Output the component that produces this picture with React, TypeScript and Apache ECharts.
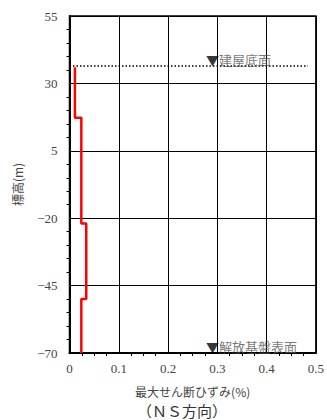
import React, { useEffect, useRef } from "react";
import * as echarts from "echarts";

// Shear strain profile (layer tops / bottoms in m, max shear strain in %)
const layerTop = [36, 17.3, -22, -50];
const layerBottom = [17.3, -22, -50, -70];
const strainValues = [0.011, 0.024, 0.034, 0.024];

// Building base level
const baseLevel = 36.5;
const baseLineX = [0, 0.484];

// Annotations
const noteTexts = ["建屋底面", "解放基盤表面"];
const noteX = [0.277, 0.277];
const noteY = [36.5, -70];

const yTicks = [-70, -45, -20, 5, 30, 55];
const xTicks = [0, 0.1, 0.2, 0.3, 0.4, 0.5];

const serif = "Liberation Serif";
const cjk = "Noto Sans CJK JP";

export default function App() {
  const ref = useRef<HTMLDivElement>(null);
  useEffect(() => {
    if (!ref.current) return;
    const chart = echarts.init(ref.current, undefined, { renderer: "svg" });

    const profile: number[][] = [];
    strainValues.forEach((v, i) => {
      profile.push([v, layerTop[i]]);
      profile.push([v, layerBottom[i]]);
    });

    chart.setOption({
      animation: false,
      backgroundColor: "#fff",
      graphic: [
        {
          type: "text",
          left: 137,
          top: 403,
          style: {
            text: "（ＮＳ方向）",
            fontFamily: cjk,
            fontSize: 15,
            fill: "#333",
          },
        },
      ],
      grid: {
        left: 69.5,
        right: 8,
        top: 16,
        bottom: 67,
        show: true,
        borderColor: "#000",
        borderWidth: 1.5,
        backgroundColor: "transparent",
      },
      xAxis: {
        type: "value",
        min: xTicks[0],
        max: xTicks[xTicks.length - 1],
        interval: 0.1,
        name: "最大せん断ひずみ(%)",
        nameLocation: "middle",
        nameGap: 31,
        nameTextStyle: { fontFamily: cjk, fontSize: 12, color: "#444", lineHeight: 14 },
        axisLine: { show: true, onZero: false, lineStyle: { color: "#000", width: 2 } },
        axisTick: { show: false },
        minorTick: { show: true, splitNumber: 4, length: 3, lineStyle: { color: "#000", width: 1 } },
        minorSplitLine: { show: false },
        splitLine: { show: true, lineStyle: { color: "#000", width: 1 } },
        axisLabel: {
          margin: 9,
          fontFamily: serif,
          fontSize: 13,
          color: "#444",
          formatter: (v: number) => (v === 0 ? "0" : v.toFixed(1)),
        },
      },
      yAxis: {
        type: "value",
        min: yTicks[0],
        max: yTicks[yTicks.length - 1],
        interval: 25,
        name: "標高(m)",
        nameLocation: "middle",
        nameGap: 46,
        nameRotate: 90,
        nameTextStyle: { fontFamily: cjk, fontSize: 12, color: "#444" },
        axisLine: { show: true, onZero: false, lineStyle: { color: "#000", width: 2 } },
        axisTick: { show: false },
        minorTick: { show: true, splitNumber: 5, length: 3, lineStyle: { color: "#000", width: 1 } },
        minorSplitLine: { show: false },
        splitLine: { show: true, lineStyle: { color: "#000", width: 1 } },
        axisLabel: {
          margin: 12,
          fontFamily: serif,
          fontSize: 13,
          color: "#444",
          formatter: (v: number) => String(v).replace("-", "−"),
        },
      },
      series: [
        {
          type: "line",
          data: baseLineX.map((x) => [x, baseLevel]),
          symbol: "none",
          lineStyle: { color: "#000", width: 1.5, type: [1.5, 2] },
          z: 3,
        },
        {
          type: "line",
          data: profile,
          symbol: "none",
          lineStyle: { color: "#ff0000", width: 2.5 },
          z: 4,
        },
        {
          type: "scatter",
          symbolSize: 0,
          data: noteTexts.map((t, i) => ({ value: [noteX[i], noteY[i]], name: t })),
          label: {
            show: true,
            position: [0, 0],
            align: "left",
            verticalAlign: "bottom",
            formatter: (p: any) => "{t|▼}{s|" + p.name + "}",
            rich: {
              t: { fontFamily: cjk, fontSize: 13, color: "#000" },
              s: { fontFamily: cjk, fontSize: 13, color: "#555" },
            },
          },
          z: 5,
        },
      ],
    });
    return () => chart.dispose();
  }, []);
  return (
    <div
      ref={ref}
      style={{ position: "fixed", left: 0, top: 0, width: 327, height: 420 }}
    />
  );
}
